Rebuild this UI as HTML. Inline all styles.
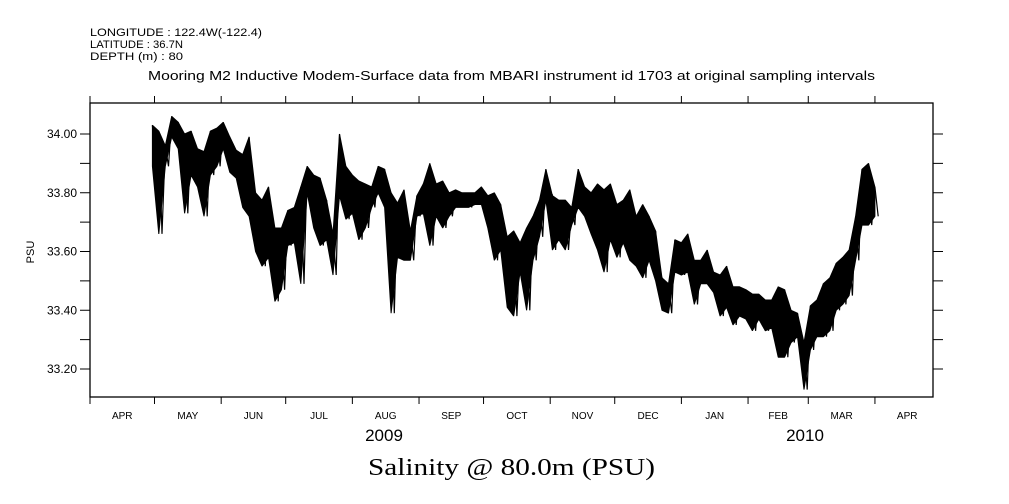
<!DOCTYPE html>
<html><head><meta charset="utf-8"><style>
body{margin:0;background:#fff;}
svg{display:block;font-family:"Liberation Sans",sans-serif;}
</style></head><body>
<svg id="c" width="1009" height="504" viewBox="0 0 1009 504">
<g font-size="11" fill="#000">
<text x="90" y="36" textLength="172" lengthAdjust="spacingAndGlyphs">LONGITUDE : 122.4W(-122.4)</text>
<text x="90" y="48" textLength="93" lengthAdjust="spacingAndGlyphs">LATITUDE : 36.7N</text>
<text x="90" y="60" textLength="93" lengthAdjust="spacingAndGlyphs">DEPTH (m) : 80</text>
</g>
<text x="148" y="80" font-size="13" textLength="727" lengthAdjust="spacingAndGlyphs">Mooring M2 Inductive Modem-Surface data from MBARI instrument id 1703 at original sampling intervals</text>
<text transform="translate(34,252) rotate(-90)" font-size="11" text-anchor="middle">PSU</text>
<text x="384" y="441" font-size="17" text-anchor="middle">2009</text>
<text x="805" y="441" font-size="17" text-anchor="middle">2010</text>
<text x="368" y="475" font-size="24" textLength="287" lengthAdjust="spacingAndGlyphs" font-family="Liberation Serif,serif">Salinity @ 80.0m (PSU)</text>
<g id="axes"></g>
<g id="series"></g>
</svg>
<script>
const startDay = 29, stepDays = 3;
const hiVals = [34.03,34.01,33.96,34.06,34.04,34.0,34.01,33.95,33.94,34.01,34.02,34.04,33.99,33.945,33.93,33.99,33.80,33.775,33.82,33.68,33.68,33.74,33.75,33.82,33.89,33.86,33.85,33.775,33.66,34.0,33.89,33.86,33.84,33.83,33.82,33.89,33.88,33.80,33.765,33.81,33.67,33.79,33.83,33.90,33.83,33.84,33.80,33.81,33.80,33.80,33.80,33.82,33.79,33.80,33.76,33.65,33.67,33.63,33.68,33.72,33.775,33.88,33.79,33.775,33.775,33.75,33.88,33.82,33.80,33.83,33.81,33.83,33.76,33.775,33.81,33.72,33.76,33.72,33.67,33.51,33.49,33.64,33.63,33.66,33.57,33.57,33.605,33.53,33.52,33.55,33.48,33.48,33.47,33.455,33.455,33.435,33.435,33.48,33.47,33.40,33.39,33.29,33.415,33.435,33.49,33.51,33.56,33.58,33.605,33.72,33.88,33.90,33.82];
const loVals = [33.89,33.66,33.89,33.99,33.95,33.73,33.86,33.82,33.72,33.86,33.89,33.95,33.87,33.85,33.75,33.72,33.60,33.55,33.58,33.43,33.47,33.62,33.63,33.49,33.80,33.68,33.62,33.64,33.52,33.79,33.71,33.73,33.64,33.68,33.75,33.80,33.75,33.39,33.58,33.57,33.57,33.72,33.73,33.62,33.72,33.68,33.72,33.75,33.75,33.75,33.76,33.76,33.68,33.57,33.605,33.41,33.38,33.53,33.40,33.57,33.65,33.775,33.605,33.64,33.605,33.69,33.75,33.72,33.66,33.605,33.53,33.64,33.58,33.63,33.57,33.55,33.51,33.57,33.50,33.40,33.39,33.53,33.52,33.53,33.42,33.49,33.49,33.46,33.38,33.41,33.35,33.38,33.37,33.33,33.37,33.33,33.34,33.24,33.24,33.29,33.31,33.13,33.265,33.31,33.31,33.33,33.40,33.42,33.45,33.57,33.69,33.69,33.72];
const yTickVals = [34.0,33.8,33.6,33.4,33.2];
const yTickLabels = ["34.00","33.80","33.60","33.40","33.20"];
const monthLabels = ["APR","MAY","JUN","JUL","AUG","SEP","OCT","NOV","DEC","JAN","FEB","MAR","APR"];
const monthStartDays = [0,30,61,91,122,153,183,214,244,275,306,334,365,395];

const PL=90,PR=933,PT=103,PB=397;
const xs=d=>PL+d*(PR-PL)/392;
const ys=v=>134+(34-v)*293.75;
const NS='http://www.w3.org/2000/svg';
function mk(tag,attrs,parent){const e=document.createElementNS(NS,tag);for(const k in attrs)e.setAttribute(k,attrs[k]);parent.appendChild(e);return e;}
const ax=document.getElementById('axes');
const frame=mk('rect',{x:PL,y:PT,width:PR-PL,height:PB-PT,fill:'none',stroke:'#000','stroke-width':1.3},ax);


for(let v=33.2;v<=34.05;v+=0.1){
  const y=ys(v);
  const t=mk('line',{x1:PL-10,x2:PL,y1:y,y2:y,stroke:'#000'},ax);
  
  
  const t2=mk('line',{x1:PR,x2:PR+10,y1:y,y2:y,stroke:'#000'},ax);
  
  
}
yTickVals.forEach((v,i)=>{
  const t=mk('text',{x:77,y:ys(v)+4,'font-size':12,'text-anchor':'end'},ax);
  t.textContent=yTickLabels[i];
  
  
});
monthStartDays.forEach(d=>{
  if(d>392)return;
  const x=xs(d);
  const t=mk('line',{x1:x,x2:x,y1:PB,y2:PB+7,stroke:'#000'},ax);
  
  
  const t2=mk('line',{x1:x,x2:x,y1:PT-7,y2:PT,stroke:'#000'},ax);
  
  
});
monthLabels.forEach((m,i)=>{
  const x=xs((monthStartDays[i]+monthStartDays[i+1])/2);
  const t=mk('text',{x:x,y:419,'font-size':10,'text-anchor':'middle'},ax);
  t.textContent=m;
  
  
});
const sg=document.getElementById('series');
const upperPts=[],lowerPts=[],zigPts=[];
hiVals.forEach((h,i)=>{
  const d=startDay+i*stepDays;
  upperPts.push(xs(d).toFixed(1)+','+ys(h).toFixed(1));
  lowerPts.unshift(xs(d).toFixed(1)+','+ys(loVals[i]).toFixed(1));
  zigPts.push(xs(d).toFixed(1)+','+ys(h).toFixed(1));
  zigPts.push(xs(d+1.5).toFixed(1)+','+ys(loVals[i]).toFixed(1));
});
const band=mk('polygon',{points:upperPts.concat(lowerPts).join(' '),fill:'#000',stroke:'#000','stroke-width':1,'stroke-linejoin':'bevel'},sg);


const sline=mk('polyline',{points:zigPts.join(' '),fill:'none',stroke:'#000','stroke-width':1.2},sg);


</script>
</body></html>
